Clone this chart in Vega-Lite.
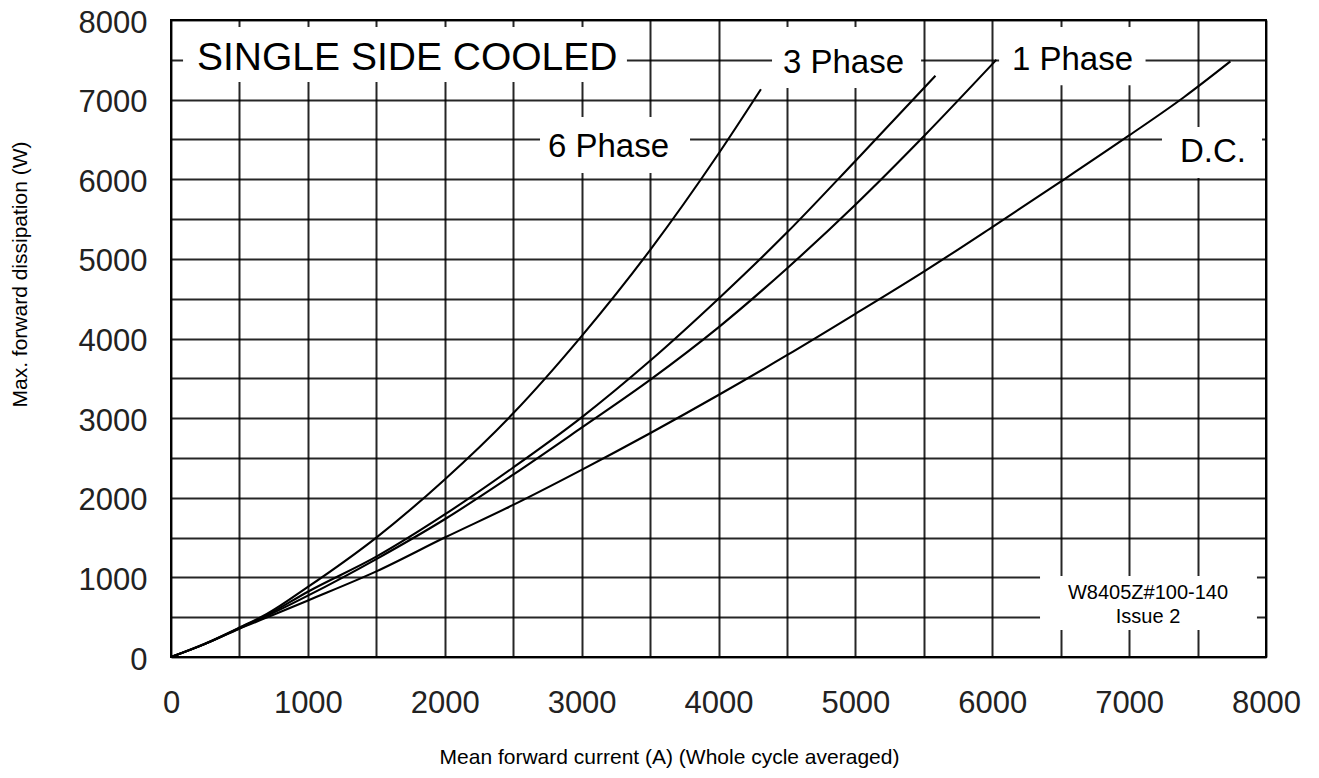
{
  "$schema": "https://vega.github.io/schema/vega-lite/v6.json",
  "width": 1095,
  "height": 637,
  "autosize": {"type": "none"},
  "padding": {"left": 171, "top": 20, "right": 53, "bottom": 121},
  "background": "white",
  "config": {
    "view": {"stroke": "black", "strokeWidth": 2},
    "font": "Liberation Sans"
  },
  "datasets": {
    "curves": [
      {"series": "6 Phase", "current": 0, "power": 0},
      {"series": "6 Phase", "current": 250, "power": 170},
      {"series": "6 Phase", "current": 500, "power": 370},
      {"series": "6 Phase", "current": 700, "power": 540},
      {"series": "6 Phase", "current": 1000, "power": 880},
      {"series": "6 Phase", "current": 1500, "power": 1500},
      {"series": "6 Phase", "current": 2000, "power": 2230},
      {"series": "6 Phase", "current": 2500, "power": 3060},
      {"series": "6 Phase", "current": 3000, "power": 4030},
      {"series": "6 Phase", "current": 3500, "power": 5110},
      {"series": "6 Phase", "current": 4000, "power": 6320},
      {"series": "6 Phase", "current": 4310, "power": 7130},
      {"series": "3 Phase", "current": 0, "power": 0},
      {"series": "3 Phase", "current": 250, "power": 165},
      {"series": "3 Phase", "current": 500, "power": 365},
      {"series": "3 Phase", "current": 700, "power": 525},
      {"series": "3 Phase", "current": 1000, "power": 820},
      {"series": "3 Phase", "current": 1500, "power": 1260},
      {"series": "3 Phase", "current": 2000, "power": 1790},
      {"series": "3 Phase", "current": 2500, "power": 2380},
      {"series": "3 Phase", "current": 3000, "power": 3010},
      {"series": "3 Phase", "current": 3500, "power": 3720},
      {"series": "3 Phase", "current": 4000, "power": 4500},
      {"series": "3 Phase", "current": 4500, "power": 5330},
      {"series": "3 Phase", "current": 5000, "power": 6230},
      {"series": "3 Phase", "current": 5585, "power": 7300},
      {"series": "1 Phase", "current": 0, "power": 0},
      {"series": "1 Phase", "current": 250, "power": 165},
      {"series": "1 Phase", "current": 500, "power": 360},
      {"series": "1 Phase", "current": 700, "power": 515},
      {"series": "1 Phase", "current": 1000, "power": 770},
      {"series": "1 Phase", "current": 1500, "power": 1230},
      {"series": "1 Phase", "current": 2000, "power": 1730},
      {"series": "1 Phase", "current": 2500, "power": 2290},
      {"series": "1 Phase", "current": 3000, "power": 2880},
      {"series": "1 Phase", "current": 3500, "power": 3480},
      {"series": "1 Phase", "current": 4000, "power": 4140},
      {"series": "1 Phase", "current": 4500, "power": 4880},
      {"series": "1 Phase", "current": 5000, "power": 5680},
      {"series": "1 Phase", "current": 5500, "power": 6540},
      {"series": "1 Phase", "current": 6030, "power": 7500},
      {"series": "D.C.", "current": 0, "power": 0},
      {"series": "D.C.", "current": 250, "power": 165},
      {"series": "D.C.", "current": 500, "power": 355},
      {"series": "D.C.", "current": 700, "power": 495},
      {"series": "D.C.", "current": 1000, "power": 710},
      {"series": "D.C.", "current": 1500, "power": 1075},
      {"series": "D.C.", "current": 2000, "power": 1500},
      {"series": "D.C.", "current": 2500, "power": 1910},
      {"series": "D.C.", "current": 3000, "power": 2350},
      {"series": "D.C.", "current": 3500, "power": 2810},
      {"series": "D.C.", "current": 4000, "power": 3290},
      {"series": "D.C.", "current": 4500, "power": 3790},
      {"series": "D.C.", "current": 5000, "power": 4310},
      {"series": "D.C.", "current": 5500, "power": 4840},
      {"series": "D.C.", "current": 6000, "power": 5400},
      {"series": "D.C.", "current": 6500, "power": 5970},
      {"series": "D.C.", "current": 7000, "power": 6550},
      {"series": "D.C.", "current": 7400, "power": 7030},
      {"series": "D.C.", "current": 7740, "power": 7480}
    ],
    "boxes": [
      {"name": "SINGLE SIDE COOLED", "x": 88, "x2": 3331, "y": 7222, "y2": 7913},
      {"name": "3 Phase", "x": 4391, "x2": 5480, "y": 7147, "y2": 7913},
      {"name": "1 Phase", "x": 6050, "x2": 7120, "y": 7180, "y2": 7913},
      {"name": "6 Phase", "x": 2696, "x2": 3792, "y": 6079, "y2": 6782},
      {"name": "D.C.", "x": 7240, "x2": 7971, "y": 6016, "y2": 6657},
      {"name": "note", "x": 6349, "x2": 7934, "y": 339, "y2": 1017}
    ],
    "labels": [
      {"group": "heading", "text": "SINGLE SIDE COOLED", "x": 190, "y": 7373},
      {"group": "curve", "text": "3 Phase", "x": 4471, "y": 7335},
      {"group": "curve", "text": "1 Phase", "x": 6144, "y": 7373},
      {"group": "curve", "text": "6 Phase", "x": 2754, "y": 6280},
      {"group": "curve", "text": "D.C.", "x": 7372, "y": 6217},
      {"group": "note", "text": "W8405Z#100-140", "x": 7138, "y": 728},
      {"group": "note", "text": "Issue 2", "x": 7138, "y": 427}
    ]
  },
  "layer": [
    {
      "data": {"name": "boxes"},
      "mark": {"type": "rect", "fill": "white", "stroke": null},
      "encoding": {
        "x": {
          "field": "x", "type": "quantitative",
          "scale": {"domain": [0, 8000], "nice": false},
          "axis": {
            "values": [0,500,1000,1500,2000,2500,3000,3500,4000,4500,5000,5500,6000,6500,7000,7500,8000],
            "tickCount": 40,
            "format": "d",
            "labelExpr": "datum.value % 1000 === 0 ? datum.label : ''",
            "grid": true, "gridColor": "#000", "gridWidth": 2, "gridOpacity": 0.85,
            "domain": false, "ticks": false,
            "labelFont": "Liberation Sans", "labelFontSize": 31, "labelColor": "#222",
            "labelPadding": 31, "labelFlush": false,
            "title": "Mean forward current (A) (Whole cycle averaged)",
            "titleFont": "Liberation Sans", "titleFontSize": 21, "titleFontWeight": "normal",
            "titleColor": "black", "titleX": 498, "titleY": 100, "titleBaseline": "middle", "titleAnchor": "middle"
          }
        },
        "x2": {"field": "x2"},
        "y": {
          "field": "y", "type": "quantitative",
          "scale": {"domain": [0, 8000], "nice": false},
          "axis": {
            "values": [0,500,1000,1500,2000,2500,3000,3500,4000,4500,5000,5500,6000,6500,7000,7500,8000],
            "tickCount": 40,
            "format": "d",
            "labelExpr": "datum.value % 1000 === 0 ? datum.label : ''",
            "grid": true, "gridColor": "#000", "gridWidth": 2, "gridOpacity": 0.85,
            "domain": false, "ticks": false,
            "labelFont": "Liberation Sans", "labelFontSize": 31, "labelColor": "#222",
            "labelPadding": 24, "labelOffset": 3, "labelFlush": false,
            "title": "Max. forward dissipation (W)",
            "titleFont": "Liberation Sans", "titleFontSize": 21, "titleFontWeight": "normal",
            "titleColor": "black", "titleX": -151, "titleY": 254, "titleBaseline": "middle", "titleAnchor": "middle"
          }
        },
        "y2": {"field": "y2"}
      }
    },
    {
      "data": {"name": "curves"},
      "mark": {"type": "line", "color": "black", "strokeWidth": 2.1, "interpolate": "monotone"},
      "encoding": {
        "x": {"field": "current", "type": "quantitative"},
        "y": {"field": "power", "type": "quantitative"},
        "detail": {"field": "series"}
      }
    },
    {
      "data": {"name": "labels"},
      "transform": [{"filter": "datum.group === 'heading'"}],
      "mark": {"type": "text", "align": "left", "baseline": "alphabetic", "fontSize": 39, "font": "Liberation Sans", "color": "black"},
      "encoding": {
        "x": {"field": "x", "type": "quantitative"},
        "y": {"field": "y", "type": "quantitative"},
        "text": {"field": "text"}
      }
    },
    {
      "data": {"name": "labels"},
      "transform": [{"filter": "datum.group === 'curve'"}],
      "mark": {"type": "text", "align": "left", "baseline": "alphabetic", "fontSize": 33, "font": "Liberation Sans", "color": "black"},
      "encoding": {
        "x": {"field": "x", "type": "quantitative"},
        "y": {"field": "y", "type": "quantitative"},
        "text": {"field": "text"}
      }
    },
    {
      "data": {"name": "labels"},
      "transform": [{"filter": "datum.group === 'note'"}],
      "mark": {"type": "text", "align": "center", "baseline": "alphabetic", "fontSize": 20, "font": "Liberation Sans", "color": "black"},
      "encoding": {
        "x": {"field": "x", "type": "quantitative"},
        "y": {"field": "y", "type": "quantitative"},
        "text": {"field": "text"}
      }
    }
  ]
}
